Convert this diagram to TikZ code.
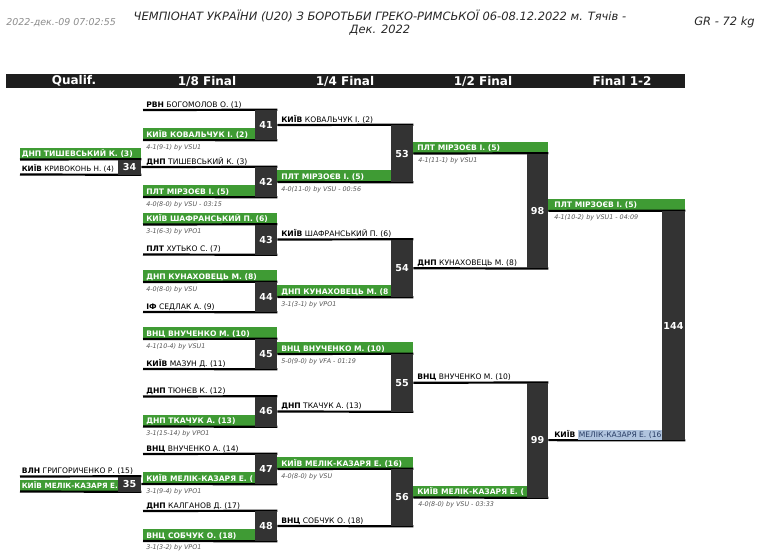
\documentclass[tikz,border=0pt]{standalone}
\usepackage{fontspec}
\setmainfont{DejaVu Sans}
\pgfdeclarelayer{bg}
\pgfsetlayers{bg,main}
\definecolor{wgreen}{RGB}{63,155,52}
\definecolor{boxgray}{RGB}{51,51,51}
\definecolor{barblack}{RGB}{30,30,30}
\definecolor{scgray}{RGB}{85,85,85}
\definecolor{tsgray}{RGB}{140,140,140}
\definecolor{ttgray}{RGB}{40,40,40}
\definecolor{hlblue}{RGB}{176,196,222}
\definecolor{hltext}{RGB}{40,60,100}
\newcommand\MBox[6]{\node[mbox, minimum width={(#3-#2)*0.75pt}, minimum height={(#5-#4)*0.75pt}] (#1) at ({(#2+#3)/2},{(#4+#5)/2}) {#6};}
\newcommand\Nm[4]{\node[nm] (#1) at (#2,#3) {#4};}
\newcommand\Wn[4]{\node[wn] (#1) at (#2,#3) {#4};}
\newcommand\Sc[4]{\node[sc] (#1) at (#2,#3) {#4};}
\newcommand\Band[3]{\fill[wgreen] (#1,{#3-12}) rectangle (#2,#3);}
\tikzset{
  mbox/.style={fill=boxgray, text=white, inner sep=0pt, font=\fontsize{7.2}{8}\selectfont\bfseries},
  nm/.style={anchor=base west, inner sep=0pt, text=black, font=\fontsize{5.7}{6.8}\selectfont},
  wn/.style={anchor=base west, inner sep=0pt, text=white, font=\fontsize{5.7}{6.8}\selectfont\bfseries},
  sc/.style={anchor=base west, inner sep=0pt, text=scgray, font=\fontsize{4.8}{5.8}\selectfont\itshape},
  ln/.style={draw=black, line width=1.65pt},
  hdr/.style={text=white, inner sep=0pt, font=\fontsize{9}{10}\selectfont\bfseries},
}
\begin{document}
\begin{tikzpicture}[x=0.75pt,y=-0.75pt]
\useasboundingbox (0,0) rectangle (761,551);
% ---------- match boxes ----------
\MBox{m34}{118}{141}{159.5}{174.5}{34}
\MBox{m35}{118}{141}{476.5}{491.5}{35}
\MBox{m41}{255}{277}{110}{140}{41}
\MBox{m42}{255}{277}{167}{197}{42}
\MBox{m43}{255}{277}{224.5}{254.5}{43}
\MBox{m44}{255}{277}{282}{312}{44}
\MBox{m45}{255}{277}{339}{369}{45}
\MBox{m46}{255}{277}{396.5}{426.5}{46}
\MBox{m47}{255}{277}{454}{484}{47}
\MBox{m48}{255}{277}{511}{541}{48}
\MBox{m53}{391}{413}{125}{182}{53}
\MBox{m54}{391}{413}{239.5}{297}{54}
\MBox{m55}{391}{413}{354}{411.5}{55}
\MBox{m56}{391}{413}{469}{526}{56}
\MBox{m98}{527}{548}{153.5}{268.25}{98}
\MBox{m99}{527}{548}{382.75}{497.5}{99}
\MBox{m144}{662}{685}{210.9}{440.1}{144}
\begin{pgfonlayer}{bg}
\fill[white] (0,0) rectangle (761,551);
% ---------- title ----------
\node[anchor=base west, inner sep=0pt, text=tsgray, font=\fontsize{7.1}{8}\selectfont\itshape] (stamp) at (6,25) {2022-дек.-09 07:02:55};
\node[anchor=base, inner sep=0pt, text=ttgray, font=\fontsize{8.6}{10}\selectfont\itshape] (title1) at (380,20.5) {ЧЕМПІОНАТ УКРАЇНИ (U20) З БОРОТЬБИ ГРЕКО-РИМСЬКОЇ 06-08.12.2022 м. Тячів -};
\node[anchor=base, inner sep=0pt, text=ttgray, font=\fontsize{8.6}{10}\selectfont\itshape] (title2) at (380,33.5) {Дек. 2022};
\node[anchor=base east, inner sep=0pt, text=ttgray, font=\fontsize{8.6}{10}\selectfont\itshape] (cat) at (755,25) {GR - 72 kg};
% ---------- header bar ----------
\fill[barblack] (6,74) rectangle (685,88);
\node[hdr] (h0) at (74,81) {Qualif.};
\node[hdr] (h1) at (207,81) {1/8 Final};
\node[hdr] (h2) at (345,81) {1/4 Final};
\node[hdr] (h3) at (483,81) {1/2 Final};
\node[hdr] (h4) at (622,81) {Final 1-2};
% ---------- winner bands ----------
\Band{20}{141}{159.5}
\Band{20}{141}{491.5}
\Band{143}{277}{140}
\Band{143}{277}{197}
\Band{143}{277}{224.5}
\Band{143}{277}{282}
\Band{143}{277}{339}
\Band{143}{277}{426.5}
\Band{143}{277}{484}
\Band{143}{277}{541}
\Band{277}{413}{182}
\Band{277}{413}{297}
\Band{277}{413}{354}
\Band{277}{413}{469}
\Band{413}{548}{153.5}
\Band{413}{548}{497.5}
\Band{548}{685}{210.9}
% ---------- free line starts ----------
\coordinate (q34a) at (20,159.5);
\coordinate (q34b) at (20,174.5);
\coordinate (q35a) at (20,476.5);
\coordinate (q35b) at (20,491.5);
\coordinate (a41) at (143,110);  \coordinate (b41) at (143,140);
\coordinate (b42) at (143,197);
\coordinate (a43) at (143,224.5);\coordinate (b43) at (143,254.5);
\coordinate (a44) at (143,282);  \coordinate (b44) at (143,312);
\coordinate (a45) at (143,339);  \coordinate (b45) at (143,369);
\coordinate (a46) at (143,396.5);\coordinate (b46) at (143,426.5);
\coordinate (a47) at (143,454);
\coordinate (a48) at (143,511);  \coordinate (b48) at (143,541);
% ---------- connectors ----------
\draw[ln] (q34a) -- (m34.north east);
\draw[ln] (q34b) -- (m34.south east);
\draw[ln] (q35a) -- (m35.north east);
\draw[ln] (q35b) -- (m35.south east);
\draw[ln] (a41) -- (m41.north east);
\draw[ln] (b41) -- (m41.south east);
\draw[ln] (m34.east) -- (m42.north east);
\draw[ln] (b42) -- (m42.south east);
\draw[ln] (a43) -- (m43.north east);
\draw[ln] (b43) -- (m43.south east);
\draw[ln] (a44) -- (m44.north east);
\draw[ln] (b44) -- (m44.south east);
\draw[ln] (a45) -- (m45.north east);
\draw[ln] (b45) -- (m45.south east);
\draw[ln] (a46) -- (m46.north east);
\draw[ln] (b46) -- (m46.south east);
\draw[ln] (a47) -- (m47.north east);
\draw[ln] (m35.east) -- (m47.south east);
\draw[ln] (a48) -- (m48.north east);
\draw[ln] (b48) -- (m48.south east);
\draw[ln] (m41.east) -- (m53.north east);
\draw[ln] (m42.east) -- (m53.south east);
\draw[ln] (m43.east) -- (m54.north east);
\draw[ln] (m44.east) -- (m54.south east);
\draw[ln] (m45.east) -- (m55.north east);
\draw[ln] (m46.east) -- (m55.south east);
\draw[ln] (m47.east) -- (m56.north east);
\draw[ln] (m48.east) -- (m56.south east);
\draw[ln] (m53.east) -- (m98.north east);
\draw[ln] (m54.east) -- (m98.south east);
\draw[ln] (m55.east) -- (m99.north east);
\draw[ln] (m56.east) -- (m99.south east);
\draw[ln] (m98.east) -- (m144.north east);
\draw[ln] (m99.east) -- (m144.south east);
% ---------- qualif texts ----------
\Wn{t34a}{21.5}{156.5}{ДНП ТИШЕВСЬКИЙ К. (3)}
\node[nm, font=\fontsize{5.45}{6.5}\selectfont] (t34b) at (21.5,171.5) {{\bfseries КИЇВ} КРИВОКОНЬ Н. (4)};
\Nm{t35a}{21.5}{473.5}{{\bfseries ВЛН} ГРИГОРИЧЕНКО Р. (15)}
\begin{scope}
\clip (20,470) rectangle (118,495);
\node[wn, font=\fontsize{5.45}{6.5}\selectfont\bfseries] (t35b) at (21.5,488.5) {КИЇВ МЕЛІК-КАЗАРЯ Е. (1};
\end{scope}
% ---------- 1/8 texts ----------
\Nm{t41a}{146}{107}{{\bfseries РВН} БОГОМОЛОВ О. (1)}
\Wn{t41b}{146}{137}{КИЇВ КОВАЛЬЧУК І. (2)}
\Sc{s41}{146}{149}{4-1(9-1) by VSU1}
\Nm{t42a}{146}{164}{{\bfseries ДНП} ТИШЕВСЬКИЙ К. (3)}
\Wn{t42b}{146}{194}{ПЛТ МІРЗОЄВ І. (5)}
\Sc{s42}{146}{206}{4-0(8-0) by VSU - 03:15}
\Wn{t43a}{146}{221.5}{КИЇВ ШАФРАНСЬКИЙ П. (6)}
\Sc{s43}{146}{233.5}{3-1(6-3) by VPO1}
\Nm{t43b}{146}{251.5}{{\bfseries ПЛТ} ХУТЬКО С. (7)}
\Wn{t44a}{146}{279}{ДНП КУНАХОВЕЦЬ М. (8)}
\Sc{s44}{146}{291}{4-0(8-0) by VSU}
\Nm{t44b}{146}{309}{{\bfseries ІФ} СЕДЛАК А. (9)}
\Wn{t45a}{146}{336}{ВНЦ ВНУЧЕНКО М. (10)}
\Sc{s45}{146}{348}{4-1(10-4) by VSU1}
\Nm{t45b}{146}{366}{{\bfseries КИЇВ} МАЗУН Д. (11)}
\Nm{t46a}{146}{393.5}{{\bfseries ДНП} ТЮНЄВ К. (12)}
\Wn{t46b}{146}{423.5}{ДНП ТКАЧУК А. (13)}
\Sc{s46}{146}{435.5}{3-1(15-14) by VPO1}
\Nm{t47a}{146}{451}{{\bfseries ВНЦ} ВНУЧЕНКО А. (14)}
\Wn{t47b}{146}{481}{КИЇВ МЕЛІК-КАЗАРЯ Е. (}
\Sc{s47}{146}{493}{3-1(9-4) by VPO1}
\Nm{t48a}{146}{508}{{\bfseries ДНП} КАЛГАНОВ Д. (17)}
\Wn{t48b}{146}{538}{ВНЦ СОБЧУК О. (18)}
\Sc{s48}{146}{549.5}{3-1(3-2) by VPO1}
% ---------- 1/4 texts ----------
\Nm{t53a}{281}{122}{{\bfseries КИЇВ} КОВАЛЬЧУК І. (2)}
\Wn{t53b}{281}{179}{ПЛТ МІРЗОЄВ І. (5)}
\Sc{s53}{281}{191}{4-0(11-0) by VSU - 00:56}
\Nm{t54a}{281}{236.5}{{\bfseries КИЇВ} ШАФРАНСЬКИЙ П. (6)}
\Wn{t54b}{281}{294}{ДНП КУНАХОВЕЦЬ М. (8}
\Sc{s54}{281}{306}{3-1(3-1) by VPO1}
\Wn{t55a}{281}{351}{ВНЦ ВНУЧЕНКО М. (10)}
\Sc{s55}{281}{363}{5-0(9-0) by VFA - 01:19}
\Nm{t55b}{281}{408.5}{{\bfseries ДНП} ТКАЧУК А. (13)}
\Wn{t56a}{281}{466}{КИЇВ МЕЛІК-КАЗАРЯ Е. (16)}
\Sc{s56}{281}{478}{4-0(8-0) by VSU}
\Nm{t56b}{281}{523}{{\bfseries ВНЦ} СОБЧУК О. (18)}
% ---------- 1/2 texts ----------
\Wn{t98a}{417}{150.5}{ПЛТ МІРЗОЄВ І. (5)}
\Sc{s98}{418}{162.5}{4-1(11-1) by VSU1}
\Nm{t98b}{417}{265.25}{{\bfseries ДНП} КУНАХОВЕЦЬ М. (8)}
\Nm{t99a}{417}{379.75}{{\bfseries ВНЦ} ВНУЧЕНКО М. (10)}
\Wn{t99b}{417}{494.5}{КИЇВ МЕЛІК-КАЗАРЯ Е. (}
\Sc{s99}{418}{506.5}{4-0(8-0) by VSU - 03:33}
% ---------- final texts ----------
\Wn{t144a}{554}{207.9}{ПЛТ МІРЗОЄВ І. (5)}
\Sc{s144}{554}{219.5}{4-1(10-2) by VSU1 - 04:09}
\Nm{t144b}{554}{437.1}{{\bfseries КИЇВ}}
\node[nm, fill=hlblue, text=hltext, inner ysep=1.2pt, inner xsep=0.6pt] (t144c) at ([xshift=1.5pt]t144b.base east) {МЕЛІК-КАЗАРЯ Е. (16};
\end{pgfonlayer}
\end{tikzpicture}
\end{document}
